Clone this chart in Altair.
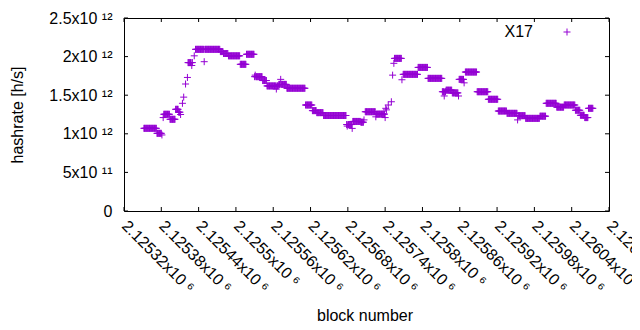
import altair as alt
import pandas as pd

# Runs of constant hashrate (block range start, end, value in 1e12 h/s)
run_start = [2125352, 2125373, 2125381, 2125383, 2125384, 2125394, 2125403, 2125408, 2125411, 2125414,
             2125416, 2125419, 2125422, 2125423, 2125429, 2125430, 2125433, 2125435, 2125449, 2125450,
             2125475, 2125480, 2125488, 2125507, 2125517, 2125530, 2125531, 2125532, 2125543, 2125550,
             2125565, 2125566, 2125569, 2125572, 2125573, 2125582, 2125612, 2125623, 2125630, 2125641,
             2125678, 2125679, 2125680, 2125687, 2125688, 2125701, 2125706, 2125708, 2125725, 2125726,
             2125740, 2125741, 2125742, 2125745, 2125750, 2125752, 2125754, 2125755, 2125767, 2125769,
             2125793, 2125809, 2125832, 2125835, 2125836, 2125838, 2125848, 2125858, 2125859, 2125867,
             2125869, 2125888, 2125906, 2125922, 2125936, 2125953, 2125954, 2125966, 2125989, 2125999,
             2126016, 2126028, 2126046, 2126054, 2126061, 2126067]
run_end = [2125372, 2125380, 2125381, 2125383, 2125393, 2125402, 2125407, 2125410, 2125411, 2125414,
           2125416, 2125419, 2125422, 2125428, 2125429, 2125430, 2125433, 2125448, 2125449, 2125474,
           2125479, 2125487, 2125506, 2125516, 2125529, 2125530, 2125531, 2125542, 2125549, 2125564,
           2125565, 2125568, 2125571, 2125572, 2125581, 2125611, 2125622, 2125629, 2125640, 2125677,
           2125678, 2125679, 2125686, 2125687, 2125700, 2125705, 2125706, 2125724, 2125725, 2125739,
           2125740, 2125741, 2125742, 2125745, 2125750, 2125752, 2125754, 2125766, 2125767, 2125792,
           2125808, 2125831, 2125834, 2125835, 2125837, 2125847, 2125857, 2125858, 2125866, 2125867,
           2125887, 2125905, 2125921, 2125935, 2125952, 2125953, 2125965, 2125988, 2125998, 2126015,
           2126027, 2126045, 2126053, 2126060, 2126066, 2126074]
run_value = [1.071, 1.006, 0.985, 1.21, 1.253, 1.188, 1.317, 1.28, 1.25, 1.395,
             1.475, 1.645, 1.73, 1.922, 1.885, 1.922, 2.01, 2.094, 1.934, 2.094,
             2.065, 2.04, 2.01, 1.90, 2.03, 1.74, 1.76, 1.74, 1.69, 1.62,
             1.58, 1.62, 1.64, 1.705, 1.64, 1.59, 1.373, 1.30, 1.274, 1.237,
             1.12, 1.10, 1.12, 1.07, 1.16, 1.15, 1.18, 1.286, 1.22, 1.255,
             1.21, 1.33, 1.31, 1.373, 1.415, 1.76, 1.913, 1.977, 1.70, 1.77,
             1.86, 1.718, 1.545, 1.49, 1.545, 1.565, 1.53, 1.49, 1.705, 1.66,
             1.80, 1.545, 1.447, 1.295, 1.265, 1.18, 1.235, 1.20, 1.228, 1.395,
             1.345, 1.373, 1.305, 1.24, 1.21, 1.33]

x_ticks = [2125320, 2125380, 2125440, 2125500, 2125560, 2125620, 2125680,
           2125740, 2125800, 2125860, 2125920, 2125980, 2126040, 2126100]
x_labels = ["2.12532x10 ⁶", "2.12538x10 ⁶", "2.12544x10 ⁶", "2.1255x10 ⁶", "2.12556x10 ⁶",
            "2.12562x10 ⁶", "2.12568x10 ⁶", "2.12574x10 ⁶", "2.1258x10 ⁶", "2.12586x10 ⁶",
            "2.12592x10 ⁶", "2.12598x10 ⁶", "2.12604x10 ⁶", "2.1261x10 ⁶"]
y_ticks = [0, 5e11, 1e12, 1.5e12, 2e12, 2.5e12]
y_labels = ["0", "5x10 ¹¹", "1x10 ¹²", "1.5x10 ¹²", "2x10 ¹²", "2.5x10 ¹²"]
series_name = "X17"

rows = []
for s, e, v in zip(run_start, run_end, run_value):
    for b in range(s, e + 1):
        rows.append({"block": b, "hashrate": v * 1e12})
df = pd.DataFrame(rows)


def label_expr(vals, labels):
    expr = "''"
    for v, l in reversed(list(zip(vals, labels))):
        expr = f"datum.value == {float(v)!r} ? '{l}' : ({expr})"
    return expr


FONT = "Liberation Sans"
W, H = 485, 193
PLUS = "M-1,0H1M0,-1V1"
COLOR = "#9400D3"

xscale = alt.Scale(domain=[2125320, 2126100], nice=False, zero=False)
yscale = alt.Scale(domain=[0, 2.5e12], nice=False, zero=True)

xaxis = alt.Axis(
    values=x_ticks, labelExpr=label_expr(x_ticks, x_labels), labelAngle=45,
    labelAlign="left", labelBaseline="middle", labelPadding=12, labelFlush=False,
    labelOverlap=False, labelBound=False, ticks=False, tickSize=0, domain=False, grid=False,
    labelFont=FONT, labelFontSize=16, labelColor="black",
    title="block number", titleFont=FONT, titleFontSize=16, titleFontWeight="normal",
    titleColor="black", titleX=W / 2 - 2, titleY=109, titleBaseline="alphabetic", titleAlign="center")
yaxis = alt.Axis(
    values=y_ticks, labelExpr=label_expr(y_ticks, y_labels), labelPadding=12,
    labelOverlap=False, labelFlush=False, ticks=False, tickSize=0, domain=False, grid=False,
    labelFont=FONT, labelFontSize=16, labelColor="black",
    title="hashrate [h/s]", titleFont=FONT, titleFontSize=16, titleFontWeight="normal",
    titleColor="black", titleX=-107, titleY=H / 2, titleAngle=270,
    titleBaseline="middle", titleAlign="center")

points = alt.Chart(df).mark_point(
    shape=PLUS, size=49, filled=False, strokeWidth=1, color=COLOR, opacity=1
).encode(
    x=alt.X("block:Q", scale=xscale, axis=xaxis),
    y=alt.Y("hashrate:Q", scale=yscale, axis=yaxis),
)

xt = pd.DataFrame({"block": x_ticks})
yt = pd.DataFrame({"hashrate": y_ticks})
TL = 4
tick_bottom = alt.Chart(xt).mark_rule(color="black", strokeWidth=1).encode(
    x=alt.X("block:Q", scale=xscale, axis=xaxis), y=alt.value(H), y2=alt.value(H - TL))
tick_top = alt.Chart(xt).mark_rule(color="black", strokeWidth=1).encode(
    x=alt.X("block:Q", scale=xscale, axis=xaxis), y=alt.value(0), y2=alt.value(TL))
tick_left = alt.Chart(yt).mark_rule(color="black", strokeWidth=1).encode(
    y=alt.Y("hashrate:Q", scale=yscale, axis=yaxis), x=alt.value(0), x2=alt.value(TL))
tick_right = alt.Chart(yt).mark_rule(color="black", strokeWidth=1).encode(
    y=alt.Y("hashrate:Q", scale=yscale, axis=yaxis), x=alt.value(W), x2=alt.value(W - TL))

leg = pd.DataFrame({"name": [series_name]})
leg_text = alt.Chart(leg).mark_text(
    align="right", baseline="middle", font=FONT, fontSize=16, color="black"
).encode(text="name:N", x=alt.value(409), y=alt.value(14))
leg_pt = alt.Chart(leg).mark_point(
    shape=PLUS, size=49, filled=False, strokeWidth=1, color=COLOR, opacity=1
).encode(x=alt.value(443), y=alt.value(14))

chart = alt.layer(
    points, tick_bottom, tick_top, tick_left, tick_right, leg_text, leg_pt
).properties(
    width=W, height=H,
    autosize=alt.AutoSizeParams(type="none"),
    padding={"left": 116, "top": 10, "right": 23, "bottom": 111},
    background="white",
).configure_view(stroke="black", strokeWidth=1)

chart.save("out.html", embed_options={"renderer": "svg", "actions": False})
